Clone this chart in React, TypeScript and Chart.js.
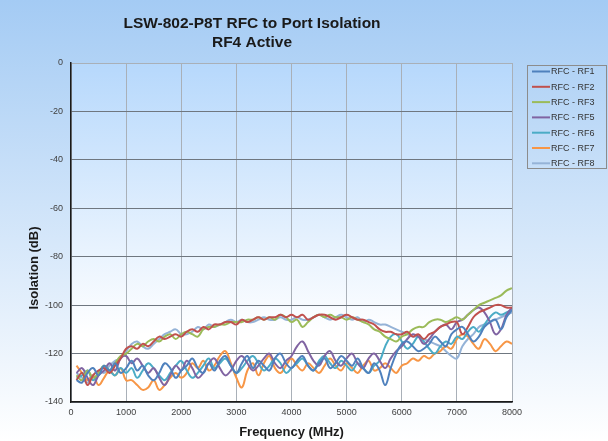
import React, { useEffect, useRef } from "react";
import { Chart, registerables } from "chart.js";

Chart.register(...registerables);

const titleLines = ["LSW-802-P8T RFC to Port Isolation", "RF4 Active"];
const xTitle = "Frequency (MHz)";
const yTitle = "Isolation (dB)";

const freqs = [
  100, 200, 300, 400, 500, 600, 700, 800, 900, 1000,
  1100, 1200, 1300, 1400, 1500, 1600, 1700, 1800, 1900, 2000,
  2100, 2200, 2300, 2400, 2500, 2600, 2700, 2800, 2900, 3000,
  3100, 3200, 3300, 3400, 3500, 3600, 3700, 3800, 3900, 4000,
  4100, 4200, 4300, 4400, 4500, 4600, 4700, 4800, 4900, 5000,
  5100, 5200, 5300, 5400, 5500, 5600, 5700, 5800, 5900, 6000,
  6100, 6200, 6300, 6400, 6500, 6600, 6700, 6800, 6900, 7000,
  7100, 7200, 7300, 7400, 7500, 7600, 7700, 7800, 7900, 8000,
];

const rf1 = [
  -131, -132, -128, -126, -129, -125, -127, -124, -128, -126,
  -123, -127, -125, -129, -131, -128, -124, -126, -130, -127,
  -125, -122, -126, -128, -124, -127, -123, -121, -125, -128,
  -124, -121, -126, -123, -125, -127, -122, -120, -124, -126,
  -123, -121, -125, -127, -124, -122, -126, -124, -121, -123,
  -125, -122, -126, -128, -124, -127, -133, -126, -120, -116,
  -115, -117, -119, -118, -116, -113, -115, -117, -112, -110,
  -109, -112, -115, -113, -109, -107, -106, -110, -105, -102,
];
const rf2 = [
  -131, -128, -133, -129, -127, -126, -128, -125, -122, -118,
  -117, -118, -116, -117, -115, -113, -114, -113, -112, -113,
  -111, -110, -111, -109, -110, -108, -108, -107, -107, -108,
  -106, -107, -106, -105, -106, -105, -105, -104, -105, -104,
  -105, -104, -106, -105, -104, -104, -105, -106, -105, -104,
  -105, -106, -106, -107, -108, -110, -111, -111, -112, -112,
  -111, -113, -112, -114, -112, -111, -109, -108, -107, -107,
  -112, -109, -105, -103, -102, -101, -100, -100, -101, -101,
];
const rf3 = [
  -129, -131, -127, -130, -128, -125, -127, -124, -121, -120,
  -118, -116, -117, -115, -114, -115, -113, -112, -114, -112,
  -111, -112, -113, -110, -109, -109, -108, -108, -107, -107,
  -107, -106, -106, -105, -106, -105, -106, -104, -105, -107,
  -106, -109, -107, -105, -104, -105, -104, -105, -105, -106,
  -105, -106, -107, -108, -110, -111, -113, -114, -115, -113,
  -112, -110, -109, -109, -107, -106, -106, -107, -106, -105,
  -106, -104, -102, -100, -99, -98, -97, -96, -94, -93,
];
const rf5 = [
  -128, -126, -130, -133, -129, -127, -124, -127, -122, -121,
  -124, -122, -125, -128, -126, -130, -133, -129, -125, -127,
  -123, -126, -130, -128, -124, -122, -126, -129, -127, -123,
  -121, -124, -127, -125, -122, -120, -124, -126, -123, -121,
  -117, -115, -119, -123, -125, -121, -119, -123, -125, -122,
  -120, -124, -126, -122, -120, -123, -126, -122, -119, -117,
  -114, -112, -113, -116, -114, -111, -109, -108, -110, -107,
  -106, -104, -102, -101, -103, -107, -112, -110, -104, -101,
];
const rf6 = [
  -130, -129, -127, -131, -128, -125, -127, -129, -126, -128,
  -126, -130, -127, -124, -126, -129, -131, -128, -125, -123,
  -127, -130, -128, -125, -122, -126, -124, -122, -125, -128,
  -126, -123, -121, -124, -127, -125, -122, -124, -128, -126,
  -124, -122, -125, -127, -123, -121, -124, -126, -123, -125,
  -127, -124, -126, -128, -125, -123, -117, -113, -112, -115,
  -118, -116, -113, -115, -118, -120, -117, -115, -116, -113,
  -114, -111, -109, -111, -108, -105, -103, -104, -103, -102,
];
const rf7 = [
  -125, -128, -131, -129, -133, -130, -127, -129, -126, -131,
  -131, -133, -135, -134, -131, -135, -133, -130, -128, -130,
  -128, -124, -126, -123, -127, -125, -121, -119, -124, -130,
  -134, -127, -124, -129, -124, -121, -126, -128, -125, -122,
  -125, -127, -124, -126, -128, -125, -122, -125, -127, -124,
  -126, -128, -125, -123, -127, -126, -124, -126, -128, -125,
  -124, -122, -123, -121, -122, -120, -119, -117, -118, -114,
  -112, -113, -116, -118, -114, -116, -119, -117, -115, -116,
];
const rf8 = [
  -128, -130, -132, -129, -127, -128, -125, -123, -122, -119,
  -116, -115, -117, -118, -116, -114, -112, -111, -110, -112,
  -112, -111, -109, -110, -108, -109, -108, -107, -106, -107,
  -106, -107, -107, -106, -105, -106, -106, -105, -106, -106,
  -105, -106, -106, -105, -104, -105, -106, -105, -104, -105,
  -106, -105, -107, -106, -107, -108, -108, -109, -110, -111,
  -112, -113, -113, -114, -115, -116, -117, -119, -121, -122,
  -117, -114, -112, -109, -108, -107, -106, -105, -104, -103,
];

const seriesLabels = ["RFC - RF1", "RFC - RF2", "RFC - RF3", "RFC - RF5", "RFC - RF6", "RFC - RF7", "RFC - RF8"];
const seriesValues = [rf1, rf2, rf3, rf5, rf6, rf7, rf8];
const seriesColors = ["#4f81bd", "#c0504d", "#9bbb59", "#8064a2", "#4bacc6", "#f79646", "#95b3d7"];

const FONT = '"Liberation Sans", Arial, Helvetica, sans-serif';

const decorPlugin = {
  id: "decor",
  beforeDraw(chart: any) {
    const { ctx, width, height, chartArea } = chart;
    ctx.save();
    let g = ctx.createLinearGradient(0, 0, 0, height);
    g.addColorStop(0, "#a4cbf4");
    g.addColorStop(1, "#ffffff");
    ctx.fillStyle = g;
    ctx.fillRect(0, 0, width, height);
    const { left, top, right, bottom } = chartArea;
    g = ctx.createLinearGradient(0, top, 0, bottom);
    g.addColorStop(0, "#b6d8fc");
    g.addColorStop(0.8, "#ffffff");
    g.addColorStop(1, "#ffffff");
    ctx.fillStyle = g;
    ctx.fillRect(left, top, right - left, bottom - top);
    ctx.restore();
  },
  afterDraw(chart: any) {
    const { ctx, chartArea } = chart;
    ctx.save();
    ctx.fillStyle = "#1a1a1a";
    ctx.textAlign = "center";
    ctx.textBaseline = "alphabetic";
    ctx.font = `bold 15.5px ${FONT}`;
    ctx.fillText(titleLines[0], 252, 28);
    ctx.fillText(titleLines[1], 252, 47);
    ctx.font = `bold 13px ${FONT}`;
    ctx.fillText(xTitle, (chartArea.left + chartArea.right) / 2, 436);
    ctx.save();
    ctx.translate(34, 268);
    ctx.rotate(-Math.PI / 2);
    ctx.textBaseline = "middle";
    ctx.fillText(yTitle, 0, 0);
    ctx.restore();
    ctx.strokeStyle = "#8c8c8c";
    ctx.lineWidth = 1;
    ctx.strokeRect(527.5, 65.5, 79, 103);
    ctx.font = `9px ${FONT}`;
    ctx.textAlign = "left";
    ctx.textBaseline = "middle";
    chart.data.datasets.forEach((ds: any, i: number) => {
      const y = 71.5 + i * 15.3;
      ctx.strokeStyle = ds.borderColor;
      ctx.lineWidth = 2;
      ctx.beginPath();
      ctx.moveTo(532, y);
      ctx.lineTo(550, y);
      ctx.stroke();
      ctx.fillStyle = "#333333";
      ctx.fillText(ds.label, 551, y + 0.5);
    });
    ctx.restore();
  },
};

export default function App() {
  const ref = useRef<HTMLCanvasElement | null>(null);
  useEffect(() => {
    document.body.style.margin = "0";
    const canvas = ref.current;
    if (!canvas) return;
    const chart = new Chart(canvas, {
      type: "line",
      data: {
        datasets: seriesLabels.map((label, i) => ({
          label,
          data: freqs.map((f, j) => ({ x: f, y: seriesValues[i][j] })),
          borderColor: seriesColors[i],
          backgroundColor: seriesColors[i],
          borderWidth: 2,
          pointRadius: 0,
          tension: 0.4,
          fill: false,
        })),
      },
      options: {
        animation: false,
        responsive: false,
        maintainAspectRatio: false,
        layout: { padding: { left: 0, top: 63, right: 96, bottom: 0 } },
        plugins: {
          legend: { display: false },
          title: { display: false },
          tooltip: { enabled: false },
        },
        scales: {
          x: {
            type: "linear",
            min: 0,
            max: 8000,
            ticks: {
              stepSize: 1000,
              color: "#404040",
              font: { family: FONT, size: 9 },
              padding: 5,
              maxRotation: 0,
              callback: (v: any) => String(v),
            },
            grid: { color: "#a9b0b8", lineWidth: 1, drawTicks: false },
            border: { color: "#1a1a1a", width: 1.5 },
            afterFit(s: any) {
              s.height = 39;
            },
          },
          y: {
            type: "linear",
            min: -140,
            max: 0,
            ticks: {
              stepSize: 20,
              color: "#404040",
              font: { family: FONT, size: 9 },
              padding: 8,
              callback: (v: any) => String(v),
            },
            grid: {
              color: (c: any) => (c.tick && c.tick.value === 0 ? "#a9b0b8" : "#6f7780"),
              lineWidth: 1,
              drawTicks: false,
            },
            border: { color: "#1a1a1a", width: 1.5 },
            afterFit(s: any) {
              s.width = 71;
            },
          },
        },
      },
      plugins: [decorPlugin],
    });
    return () => chart.destroy();
  }, []);
  return (
    <div style={{ position: "fixed", left: 0, top: 0, width: 608, height: 441 }}>
      <canvas ref={ref} width={608} height={441} style={{ display: "block", width: 608, height: 441 }} />
    </div>
  );
}
